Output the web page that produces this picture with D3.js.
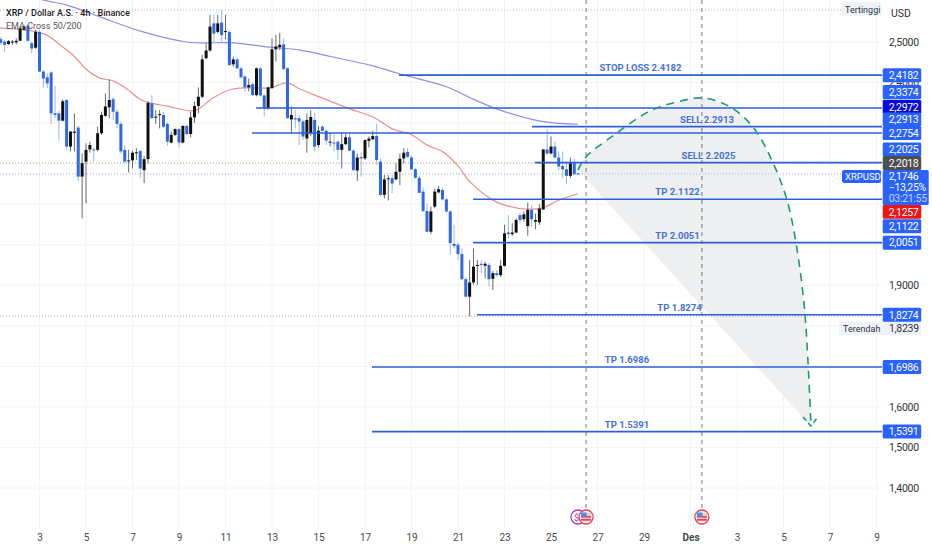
<!DOCTYPE html>
<html>
<head>
<meta charset="utf-8">
<script src="https://cdn.jsdelivr.net/npm/d3@7"></script>
<style>
  html, body { margin: 0; padding: 0; background: #fff; }
  svg { display: block; font-family: Roboto, "Noto Sans", sans-serif; }
  .domain { display: none; }
</style>
</head>
<body>
<div id="chartContainer"></div>
<script>
// 4h candles, first one is Nov 1 08:00, day numbers keep counting into Dec (Des 1 = 31)
var firstDay = 1 + 8 / 24;
var open = [2.507,2.501,2.495,2.499,2.499,2.503,2.530,2.540,2.497,2.486,2.525,2.427,2.413,2.425,2.324,2.324,2.306,2.357,2.242,2.276,
  2.289,2.168,2.205,2.235,2.235,2.234,2.275,2.318,2.339,2.359,2.328,2.298,2.234,2.206,2.208,2.226,2.231,2.184,2.211,2.349,
  2.314,2.320,2.320,2.298,2.252,2.271,2.285,2.252,2.293,2.273,2.314,2.342,2.365,2.460,2.479,2.546,2.525,2.548,2.525,2.525,
  2.445,2.457,2.435,2.415,2.388,2.396,2.369,2.435,2.368,2.336,2.386,2.482,2.487,2.494,2.435,2.309,2.312,2.312,2.304,2.262,
  2.275,2.308,2.246,2.291,2.281,2.252,2.252,2.254,2.234,2.248,2.265,2.232,2.183,2.216,2.213,2.256,2.260,2.268,2.205,2.123,
  2.162,2.164,2.161,2.180,2.213,2.229,2.215,2.186,2.165,2.131,2.083,2.032,2.094,2.129,2.135,2.112,2.082,2.002,2.000,1.977,
  1.915,1.872,1.907,1.948,1.953,1.948,1.950,1.916,1.930,1.925,1.948,2.030,2.026,2.030,2.073,2.063,2.046,2.086,2.057,2.055,
  2.087,2.235,2.225,2.242,2.215,2.194,2.186,2.170,2.201,2.176];
var high = [2.512,2.505,2.505,2.505,2.509,2.539,2.542,2.544,2.501,2.530,2.530,2.431,2.423,2.428,2.392,2.330,2.358,2.360,2.280,2.324,
  2.293,2.225,2.250,2.254,2.240,2.291,2.328,2.373,2.408,2.364,2.335,2.303,2.246,2.234,2.232,2.238,2.234,2.219,2.353,2.369,
  2.332,2.332,2.328,2.302,2.279,2.287,2.288,2.295,2.296,2.328,2.353,2.388,2.468,2.497,2.567,2.567,2.567,2.579,2.567,2.528,
  2.464,2.462,2.440,2.418,2.410,2.400,2.437,2.437,2.372,2.390,2.509,2.517,2.523,2.509,2.438,2.341,2.332,2.320,2.309,2.324,
  2.332,2.325,2.292,2.295,2.285,2.275,2.271,2.258,2.275,2.273,2.275,2.236,2.225,2.227,2.260,2.267,2.281,2.298,2.213,2.172,
  2.172,2.172,2.201,2.225,2.238,2.238,2.220,2.190,2.170,2.142,2.102,2.094,2.138,2.145,2.139,2.115,2.085,2.049,2.005,1.991,
  1.920,1.962,1.991,1.962,1.962,1.958,1.955,1.935,1.938,1.962,2.049,2.073,2.053,2.065,2.079,2.082,2.104,2.098,2.077,2.100,
  2.235,2.285,2.267,2.254,2.230,2.230,2.205,2.215,2.213,2.178];
var low = [2.493,2.476,2.493,2.493,2.494,2.503,2.528,2.501,2.472,2.483,2.427,2.388,2.386,2.298,2.312,2.258,2.304,2.234,2.230,2.230,
  2.156,2.065,2.102,2.227,2.205,2.230,2.271,2.316,2.312,2.308,2.287,2.225,2.201,2.178,2.188,2.209,2.164,2.152,2.201,2.312,
  2.298,2.287,2.287,2.244,2.250,2.268,2.240,2.250,2.270,2.265,2.300,2.324,2.361,2.457,2.476,2.497,2.521,2.501,2.507,2.442,
  2.439,2.433,2.410,2.378,2.378,2.367,2.366,2.365,2.316,2.333,2.386,2.452,2.480,2.431,2.312,2.275,2.287,2.246,2.258,2.227,
  2.268,2.230,2.240,2.279,2.246,2.242,2.230,2.209,2.188,2.246,2.230,2.180,2.157,2.168,2.209,2.240,2.258,2.197,2.120,2.114,
  2.109,2.127,2.160,2.147,2.201,2.213,2.184,2.163,2.127,2.080,2.030,2.026,2.090,2.127,2.109,2.080,1.975,1.991,1.962,1.913,
  1.870,1.823,1.901,1.901,1.930,1.917,1.897,1.888,1.921,1.921,1.946,2.016,2.022,2.028,2.053,2.057,2.022,2.045,2.038,2.049,
  2.086,2.221,2.223,2.213,2.184,2.164,2.150,2.164,2.172,2.172];
var close = [2.498,2.493,2.502,2.501,2.503,2.534,2.538,2.503,2.484,2.525,2.427,2.410,2.398,2.324,2.320,2.306,2.354,2.242,2.279,2.279,
  2.168,2.201,2.234,2.246,2.234,2.275,2.320,2.341,2.357,2.328,2.298,2.230,2.205,2.208,2.227,2.228,2.188,2.211,2.350,2.312,
  2.316,2.322,2.291,2.254,2.271,2.285,2.252,2.293,2.273,2.314,2.342,2.365,2.457,2.479,2.538,2.521,2.546,2.517,2.527,2.443,
  2.457,2.435,2.413,2.388,2.394,2.369,2.435,2.368,2.336,2.388,2.482,2.489,2.493,2.433,2.312,2.320,2.309,2.304,2.267,2.308,
  2.315,2.242,2.281,2.281,2.257,2.254,2.250,2.234,2.248,2.265,2.232,2.184,2.215,2.213,2.258,2.262,2.268,2.209,2.123,2.161,
  2.164,2.151,2.180,2.212,2.227,2.217,2.186,2.165,2.128,2.083,2.032,2.082,2.131,2.137,2.112,2.082,2.004,1.997,1.977,1.915,
  1.872,1.907,1.946,1.950,1.950,1.953,1.915,1.930,1.925,1.948,2.028,2.026,2.030,2.061,2.061,2.075,2.086,2.063,2.061,2.089,
  2.235,2.225,2.242,2.215,2.193,2.186,2.170,2.201,2.174,2.1746];

// EMA 50 / EMA 200
var ema50Days = [1.30,2.72,3.32,3.88,4.44,5.04,5.60,6.16,6.76,7.32,7.75,8.48,9.60,9.90,10.46,11.32,12.18,12.91,13.65,14.20,15.06,16.35,17.34,18.20,18.94,19.67,20.35,20.96,21.52,22.50,23.11,23.97,24.66,25.26,26.16];
var ema50Values = [2.535,2.527,2.517,2.493,2.468,2.431,2.411,2.404,2.384,2.359,2.350,2.342,2.330,2.337,2.362,2.384,2.387,2.387,2.399,2.384,2.364,2.335,2.315,2.285,2.273,2.246,2.229,2.197,2.155,2.110,2.096,2.088,2.091,2.108,2.1257];
var ema200Days = [1.30,3.15,4.18,5.60,7.45,9.34,9.90,11.32,12.78,14.20,15.62,17.34,18.50,20.53,21.65,22.81,24.53,26.16];
var ema200Values = [2.640,2.604,2.591,2.562,2.525,2.500,2.498,2.498,2.488,2.480,2.463,2.441,2.421,2.389,2.359,2.332,2.305,2.2972];

// drawn levels
var levels = [2.4182,2.3374,2.2913,2.2754,2.2025,2.1122,2.0051,1.8274,1.6986,1.5391];
var levelStart = [18.46,12.31,24.18,12.14,24.31,21.65,21.65,21.82,17.30,17.30];
var levelNames = ["STOP LOSS 2.4182","","SELL 2.2913","","SELL 2.2025","TP 2.1122","TP 2.0051","TP 1.8274","TP 1.6986","TP 1.5391"];

// projected path
var pathDays = [26.16,26.46,27.84,29.26,30.42,31.54,32.70,33.69,34.55,35.15,35.54,35.88,36.05,36.18];
var pathPrices = [2.184,2.214,2.276,2.330,2.352,2.362,2.340,2.290,2.202,2.110,2.004,1.856,1.716,1.553];
var arrowDays = [35.84,36.18,36.48];
var arrowPrices = [1.575,1.553,1.575];

var eventDays = [26.51,31.49];
var extraEventDay = 26.16;

// axes, the other grid prices have their labels hidden behind the tags
var priceTicks = [2.5,2.4,2.3,2.2,2.1,2.0,1.9,1.8,1.7,1.6,1.5,1.4];
var priceLabels = [2.5,2.4,1.9,1.6,1.5,1.4];
var dayTicks = [3,5,7,9,11,13,15,17,19,21,23,25,27,29,31,33,35,37,39];
var dayLabels = ["3","5","7","9","11","13","15","17","19","21","23","25","27","29","Des","3","5","7","9"];

// price tags on the right axis
var tagValues = [2.4182,2.3374,2.2972,2.2913,2.2754,2.2025,2.2018,2.1257,2.1122,2.0051,1.8274,1.6986,1.5391];
var lastPrice = 2.1746, lastChange = "−13,25%", countdown = "03:21:55";
var highDotted = 2.5786, lowDotted = 1.8239, prevDotted = 2.2018;

var width = 932, height = 550, plotRight = 882, plotBottom = 528;
var comma = function(v) { return v.toFixed(4).replace(".", ","); };

var x = d3.scaleLinear().domain([3, 39]).range([39.5, 876.5]);
var y = d3.scaleLinear().domain([1.4, 2.5]).range([488, 42]);

var svg = d3.select("#chartContainer").append("svg")
  .attr("width", width).attr("height", height);

svg.append("defs").append("clipPath").attr("id", "plot")
  .append("rect").attr("width", plotRight).attr("height", plotBottom);

// grid
svg.append("g").selectAll("line").data(dayTicks).join("line")
  .attr("x1", d => x(d)).attr("x2", d => x(d))
  .attr("y1", 0).attr("y2", plotBottom)
  .attr("stroke", "#f4f4f5");
svg.append("g").selectAll("line").data(priceTicks).join("line")
  .attr("x1", 0).attr("x2", plotRight)
  .attr("y1", d => y(d)).attr("y2", d => y(d))
  .attr("stroke", "#f4f4f5");

var plot = svg.append("g").attr("clip-path", "url(#plot)");

// grey fan under the projection
var pathPoints = pathDays.map((d, i) => [x(d), y(pathPrices[i])]);
var curve = d3.line().curve(d3.curveCatmullRom.alpha(0.5));
plot.append("path")
  .attr("d", curve(pathPoints) + "Z")
  .attr("fill", "#ecedf0").attr("opacity", 0.9);

// dotted price lines
[[highDotted, "#b8b8b8"], [prevDotted, "#a8a8a8"], [lastPrice, "#93aef5"], [lowDotted, "#a8a8a8"]].forEach(function(p) {
  plot.append("line")
    .attr("x1", 0).attr("x2", plotRight)
    .attr("y1", y(p[0])).attr("y2", y(p[0]))
    .attr("stroke", p[1]).attr("stroke-dasharray", "1 2");
});

// event lines
plot.selectAll(".event").data(eventDays).join("line")
  .attr("class", "event")
  .attr("x1", d => x(d)).attr("x2", d => x(d))
  .attr("y1", 0).attr("y2", 508)
  .attr("stroke", "#8f8f8f").attr("stroke-width", 1.2).attr("stroke-dasharray", "4 4");

// EMAs
var emaLine = d3.line().curve(d3.curveCatmullRom.alpha(0.5));
plot.append("path")
  .attr("d", emaLine(ema200Days.map((d, i) => [x(d), y(ema200Values[i])])))
  .attr("fill", "none").attr("stroke", "#8f8fe6").attr("stroke-width", 1.2);
plot.append("path")
  .attr("d", emaLine(ema50Days.map((d, i) => [x(d), y(ema50Values[i])])))
  .attr("fill", "none").attr("stroke", "#ee8f8f").attr("stroke-width", 1.2);

// candles
var candles = open.map(function(o, i) {
  return { day: firstDay + i / 6, open: o, high: high[i], low: low[i], close: close[i] };
});
var c = plot.append("g").selectAll("g").data(candles).join("g");
c.append("line")
  .attr("x1", d => x(d.day)).attr("x2", d => x(d.day))
  .attr("y1", d => y(d.high)).attr("y2", d => y(d.low))
  .attr("stroke", d => d.close >= d.open ? "#6a6a6a" : "#9ab4f4")
  .attr("stroke-width", 1);
c.append("rect")
  .attr("x", d => x(d.day) - 1.5).attr("width", 3)
  .attr("y", d => y(Math.max(d.open, d.close)))
  .attr("height", d => Math.max(1, Math.abs(y(d.open) - y(d.close))))
  .attr("fill", d => d.close >= d.open ? "#111" : "#2f68e4");

// level lines and names
plot.selectAll(".level").data(levels).join("line")
  .attr("class", "level")
  .attr("x1", (d, i) => x(levelStart[i])).attr("x2", plotRight)
  .attr("y1", d => y(d)).attr("y2", d => y(d))
  .attr("stroke", "#2f5fd6").attr("stroke-width", 1.6);
plot.selectAll(".levelName").data(levels).join("text")
  .attr("class", "levelName")
  .attr("x", (d, i) => (x(levelStart[i]) + plotRight) / 2)
  .attr("y", d => y(d) - 4)
  .attr("text-anchor", "middle")
  .attr("font-size", 9.5).attr("font-weight", 700)
  .attr("fill", "#4472d8")
  .text((d, i) => levelNames[i]);

// dashed projection and arrow head
plot.append("path").attr("d", curve(pathPoints))
  .attr("fill", "none").attr("stroke", "#1b9a78").attr("stroke-width", 1.6)
  .attr("stroke-dasharray", "8 6");
plot.append("path").attr("d", d3.line()(arrowDays.map((d, i) => [x(d), y(arrowPrices[i])])))
  .attr("fill", "none").attr("stroke", "#1b9a78").attr("stroke-width", 1.6)
  .attr("stroke-dasharray", "5 3");

// event badges
svg.append("circle").attr("cx", x(extraEventDay)).attr("cy", 517).attr("r", 7)
  .attr("fill", "#fff").attr("stroke", "#a63fc9").attr("stroke-width", 1.3);
svg.append("text").attr("x", x(extraEventDay) - 4).attr("y", 520.5)
  .attr("font-size", 9).attr("fill", "#a63fc9").text("$");
var badge = svg.append("g").selectAll("g").data(eventDays).join("g")
  .attr("transform", d => "translate(" + x(d) + ",517)");
badge.append("circle").attr("r", 7).attr("fill", "#fff").attr("stroke", "#e8404a").attr("stroke-width", 1.3);
badge.append("rect").attr("x", -5).attr("y", -4.5).attr("width", 10).attr("height", 9).attr("fill", "#f6c9cc");
badge.append("rect").attr("x", -5).attr("y", -1).attr("width", 10).attr("height", 1.6).attr("fill", "#e8404a");
badge.append("rect").attr("x", -5).attr("y", 2).attr("width", 10).attr("height", 1.6).attr("fill", "#e8404a");
badge.append("rect").attr("x", -5).attr("y", -4.5).attr("width", 5.5).attr("height", 4.5).attr("fill", "#4a8ae8");

// time axis
var xAxis = d3.axisBottom(x).tickValues(dayTicks).tickSize(0).tickPadding(0)
  .tickFormat((d, i) => dayLabels[i]);
var xg = svg.append("g").attr("transform", "translate(0,534)").call(xAxis);
xg.selectAll("text")
  .attr("font-family", "Roboto, sans-serif").attr("font-size", 10).attr("fill", "#4a4a4a")
  .attr("font-weight", (d, i) => dayLabels[i] === "Des" ? 700 : 400);

// price axis
var yAxis = d3.axisRight(y).tickValues(priceLabels).tickSize(0).tickPadding(7).tickFormat(comma);
var yg = svg.append("g").attr("transform", "translate(" + plotRight + ",0)").call(yAxis);
yg.selectAll("text")
  .attr("font-family", "Roboto, sans-serif").attr("font-size", 10.5).attr("letter-spacing", -0.3).attr("fill", "#333");

svg.append("text").attr("x", 891).attr("y", 17).attr("font-size", 10.5).attr("fill", "#333").text("USD");

// price tags, nudged apart the way the chart stacks them
var tagNudge = { 2.3374: -16, 2.2972: -17.4, 2.2913: -7, 2.2025: -13, 2.1257: 18, 2.1122: 27 };
var tagFill = { 2.2972: "#0a0ae0", 2.2018: "#4f4f4f", 2.1257: "#f01414" };

// low row goes first so the tags sit on top of it
svg.append("rect").attr("x", 839).attr("y", y(lowDotted) + 5.5).attr("width", 82).attr("height", 13.5).attr("fill", "#eef3fa");
svg.append("text").attr("x", 843).attr("y", y(lowDotted) + 16).attr("font-size", 9).attr("fill", "#333").text("Terendah");
svg.append("text").attr("x", 889).attr("y", y(lowDotted) + 16).attr("font-size", 10.5).attr("letter-spacing", -0.3).attr("fill", "#333").text(comma(lowDotted));

svg.append("rect").attr("x", 841).attr("y", 2).attr("width", 40).attr("height", 14).attr("rx", 2).attr("fill", "#eef3fa");
svg.append("text").attr("x", 845).attr("y", 12.5).attr("font-size", 9).attr("fill", "#333").text("Tertinggi");

var tags = svg.append("g").selectAll("g").data(tagValues).join("g")
  .attr("transform", d => "translate(882.7," + (y(d) + (tagNudge[d] || 0)) + ")");
tags.append("rect").attr("y", -7).attr("width", 38.5).attr("height", 14).attr("rx", 1.5)
  .attr("fill", d => tagFill[d] || "#2962ff");
tags.append("text").attr("x", 6).attr("y", 3.8).attr("font-size", 10.5).attr("letter-spacing", -0.3).attr("fill", "#fff").text(comma);

// current price box
var ly = y(lastPrice);
svg.append("rect").attr("x", 842).attr("y", ly - 4).attr("width", 39).attr("height", 13).attr("rx", 2).attr("fill", "#2962ff");
svg.append("text").attr("x", 845).attr("y", ly + 6.2).attr("font-size", 9.5).attr("fill", "#fff").text("XRPUSD");
svg.append("rect").attr("x", 882.7).attr("y", ly - 4).attr("width", 46).attr("height", 35).attr("rx", 1.5).attr("fill", "#2962ff");
svg.append("text").attr("x", 888.7).attr("y", ly + 6).attr("font-size", 10.5).attr("letter-spacing", -0.3).attr("fill", "#fff").text(comma(lastPrice));
svg.append("text").attr("x", 888.7).attr("y", ly + 17).attr("font-size", 10.5).attr("letter-spacing", -0.3).attr("fill", "#fff").text(lastChange);
svg.append("text").attr("x", 888.7).attr("y", ly + 28).attr("font-size", 10.5).attr("letter-spacing", -0.3).attr("fill", "#c5d4ff").text(countdown);

// titles
svg.append("text").attr("x", 6).attr("y", 16).attr("font-size", 9).attr("font-weight", 500).attr("fill", "#1e1e1e")
  .text("XRP / Dollar A.S. · 4h · Binance");
svg.append("text").attr("x", 6).attr("y", 29).attr("font-size", 9).attr("fill", "#555")
  .text("EMA Cross 50/200");
</script>
</body>
</html>
